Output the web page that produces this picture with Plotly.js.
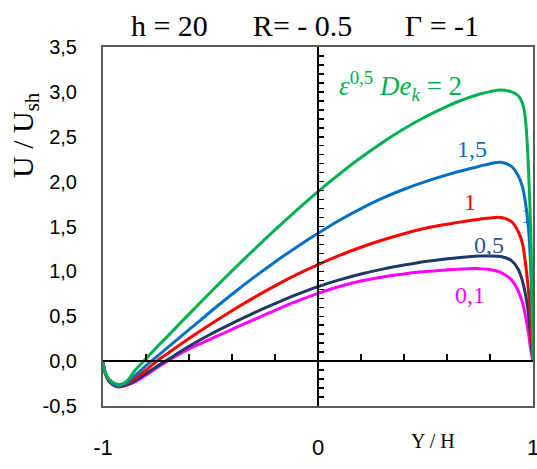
<!DOCTYPE html>
<html>
<head>
<meta charset="utf-8">
<script src="https://cdn.plot.ly/plotly-3.0.1.min.js"></script>
<style>
html,body{margin:0;padding:0;background:#fff;}
#chart{width:537px;height:469px;}
</style>
</head>
<body>
<div id="chart"></div>
<script>
// ---- data ----
const yOverH = [-1, -0.99, -0.97, -0.94, -0.92, -0.89, -0.85, -0.8, -0.75, -0.7, -0.6, -0.5, -0.4, -0.3, -0.2, -0.1, 0, 0.1, 0.2, 0.3, 0.4, 0.5, 0.6, 0.65, 0.7, 0.75, 0.8, 0.85, 0.9, 0.93, 0.95, 0.96, 0.97, 0.98, 0.99, 1];

const uDe01 = [0, -0.13, -0.23, -0.28, -0.285, -0.27, -0.23, -0.155, -0.075, 0.0, 0.135, 0.245, 0.355, 0.46, 0.565, 0.665, 0.755, 0.832, 0.892, 0.938, 0.972, 0.998, 1.017, 1.025, 1.03, 1.03, 1.02, 0.99, 0.905, 0.79, 0.66, 0.56, 0.44, 0.30, 0.12, 0];
const uDe05 = [0, -0.13, -0.23, -0.28, -0.285, -0.265, -0.215, -0.14, -0.06, 0.015, 0.165, 0.30, 0.42, 0.535, 0.64, 0.74, 0.83, 0.905, 0.97, 1.025, 1.07, 1.11, 1.14, 1.153, 1.163, 1.17, 1.172, 1.165, 1.12, 1.03, 0.90, 0.80, 0.68, 0.50, 0.24, 0];
const uDe1  = [0, -0.13, -0.225, -0.275, -0.28, -0.25, -0.19, -0.1, 0.0, 0.085, 0.252, 0.411, 0.562, 0.705, 0.839, 0.963, 1.076, 1.178, 1.269, 1.349, 1.42, 1.48, 1.525, 1.545, 1.565, 1.58, 1.595, 1.60, 1.555, 1.45, 1.32, 1.18, 0.99, 0.75, 0.43, 0];
const uDe15 = [0, -0.12, -0.22, -0.275, -0.275, -0.24, -0.16, -0.05, 0.05, 0.15, 0.35, 0.55, 0.745, 0.93, 1.105, 1.27, 1.425, 1.57, 1.70, 1.815, 1.915, 2.0, 2.075, 2.11, 2.14, 2.17, 2.20, 2.215, 2.17, 2.07, 1.95, 1.84, 1.68, 1.45, 1.0, 0];
const uDe2  = [0, -0.13, -0.205, -0.255, -0.26, -0.225, -0.10, 0.025, 0.155, 0.276, 0.524, 0.767, 1.005, 1.237, 1.462, 1.68, 1.889, 2.085, 2.268, 2.437, 2.589, 2.723, 2.839, 2.89, 2.936, 2.973, 3.003, 3.02, 3.0, 2.96, 2.88, 2.78, 2.55, 2.08, 1.40, 0];

const seriesNames = ['0,1', '0,5', '1', '1,5', '2'];
const yTickVals = [-0.5, 0, 0.5, 1, 1.5, 2, 2.5, 3, 3.5];
const yTickText = ['-0,5', '0,0', '0,5', '1,0', '1,5', '2,0', '2,5', '3,0', '3,5'];
const xTickVals = [-1, 0, 1];
const xTickText = ['-1', '0', '1'];

// ---- styling ----
const seriesData = [uDe01, uDe05, uDe1, uDe15, uDe2];
const seriesColors = ['#FF00FF', '#1F3864', '#FF0000', '#0070C0', '#00B050'];
const SERIF = 'Liberation Serif, Times New Roman, serif';
const SANS = 'Liberation Sans, Arial, sans-serif';

const traces = seriesData.map((u, i) => ({
  x: yOverH, y: u, type: 'scatter', mode: 'lines', name: seriesNames[i],
  line: {color: seriesColors[i], width: 3, shape: 'spline', smoothing: 1},
  hoverinfo: 'x+y', showlegend: false
}));
// helpers so the two axes through the origin are drawn
traces.unshift({x: [0], y: [0], xaxis: 'x2', yaxis: 'y', mode: 'markers', marker: {opacity: 0}, hoverinfo: 'skip', showlegend: false});
traces.unshift({x: [0], y: [0], xaxis: 'x', yaxis: 'y2', mode: 'markers', marker: {opacity: 0}, hoverinfo: 'skip', showlegend: false});

const W = 537, H = 469, L = 103, R = 4, T = 47, B = 63;
const pw = W - L - R, ph = H - T - B;
const px = v => (v - L) / pw;          // pixel -> paper x
const py = v => (H - B - v) / ph;      // pixel -> paper y

const ann = (text, x, y, color, size, extra) => Object.assign({
  text, xref: 'paper', yref: 'paper', x: px(x), y: py(y), showarrow: false,
  xanchor: 'center', yanchor: 'middle', font: {family: SERIF, size, color}
}, extra || {});

const layout = {
  width: W, height: H,
  margin: {l: L, r: R, t: T, b: B, pad: 0},
  paper_bgcolor: '#fff', plot_bgcolor: '#fff',
  showlegend: false,
  title: {
    text: 'h = 20\u00A0\u00A0\u00A0\u00A0\u00A0 R= - 0.5\u00A0\u00A0\u00A0\u00A0\u00A0\u00A0 Γ = -1',
    font: {family: SERIF, size: 30, color: '#000'},
    x: 305 / W, xanchor: 'center', xref: 'container',
    y: 1 - 25 / H, yanchor: 'middle', yref: 'container'
  },
  xaxis: {
    range: [-1, 1], showgrid: false, zeroline: false,
    showline: true, mirror: true, linecolor: '#595959', linewidth: 2,
    ticks: '', tickvals: xTickVals, ticktext: xTickText,
    tickfont: {family: SANS, size: 22, color: '#000'},
    ticklabelstandoff: 21, ticklabeloverflow: 'allow', fixedrange: true
  },
  yaxis: {
    range: [-0.5, 3.5], showgrid: false, zeroline: false,
    showline: true, mirror: true, linecolor: '#595959', linewidth: 2,
    ticks: '', tickvals: yTickVals, ticktext: yTickText,
    tickfont: {family: SANS, size: 20, color: '#000'},
    ticklabelstandoff: 20, fixedrange: true
  },
  xaxis2: {
    overlaying: 'x', anchor: 'free', position: 0.125, side: 'bottom',
    range: [-1, 1], showgrid: false, zeroline: false,
    showline: true, linecolor: '#000', linewidth: 2,
    ticks: 'inside', ticklen: 6, tickwidth: 1.5, tickcolor: '#000',
    dtick: 0.2, tick0: 0, showticklabels: false, fixedrange: true
  },
  yaxis2: {
    overlaying: 'y', anchor: 'free', position: 0.5, side: 'left',
    range: [-0.5, 3.5], showgrid: false, zeroline: false,
    showline: true, linecolor: '#000', linewidth: 2,
    ticks: 'inside', ticklen: 5, tickwidth: 1.5, tickcolor: '#000',
    dtick: 0.1, tick0: 0, showticklabels: false, fixedrange: true
  },
  annotations: [
    ann('U / U<sub>sh</sub>', 25, 135, '#000', 30, {textangle: -90}),
    ann('Y / H', 433, 441, '#000', 20),
    ann('<i>ε</i><sup>0,5</sup> <i>De<sub>k</sub></i> = 2', 400, 86, '#00B050', 27),
    ann('1,5', 472, 149, '#0070C0', 24),
    ann('1', 470, 202, '#FF0000', 24),
    ann('1', 526, 215, '#0070C0', 22),
    ann('0,5', 489, 245, '#2F5597', 24),
    ann('0,1', 470, 295, '#FF00FF', 24)
  ]
};

Plotly.newPlot('chart', traces, layout, {displayModeBar: false, staticPlot: true});
</script>
</body>
</html>
